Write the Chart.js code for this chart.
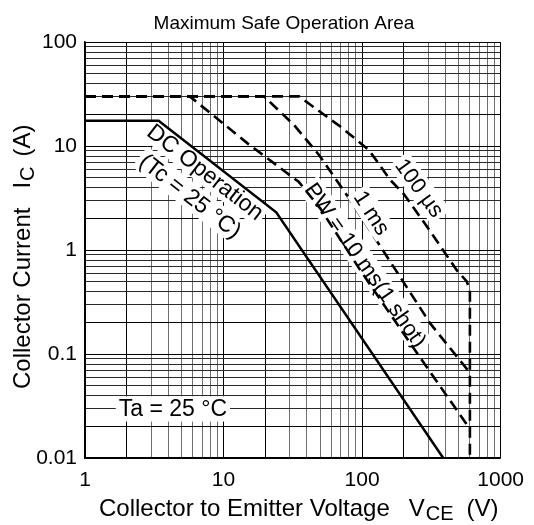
<!DOCTYPE html>
<html>
<head>
<meta charset="utf-8">
<script src="https://cdn.jsdelivr.net/npm/chart.js@4.4.0/dist/chart.umd.min.js"></script>
<style>
  html, body { margin: 0; padding: 0; background: #fff; }
</style>
</head>
<body>
<canvas id="soa" width="534" height="525"></canvas>
<script>
// values: collector-emitter voltage (V) / collector current (A)
let dcVce = [1, 3.4, 24, 385];
let dcIc = [17.5, 17.5, 2.3, 0.01];

let pw10Vce = [1, 5.7, 14.9, 35, 50, 70, 97, 229, 600];
let pw10Ic = [30, 30, 10.6, 4.5, 2.5, 1.25, 0.64, 0.12, 0.019];

let pw1Vce = [1, 19.6, 32.3, 48.9, 82.5, 135.6, 310, 600];
let pw1Ic = [30, 30, 15.9, 8.2, 3.0, 1.08, 0.197, 0.066];

let pw100Vce = [1, 35, 70, 112, 160, 200, 278, 398, 482, 569, 600, 600];
let pw100Ic = [30, 30, 15.3, 9.15, 4.7, 3.45, 1.87, 0.93, 0.64, 0.5, 0.41, 0.01];

let xTickLabels = ['1', '10', '100', '1000'];
let yTickLabels = ['0.01', '0.1', '1', '10', '100'];

const FONT = "'Liberation Sans', Arial, sans-serif";

function toPoints(xs, ys){
    return xs.map(function(x, i){ return {x: x, y: ys[i]}; });
}

// 1..9 per decade grid lines
function decadeGrid(first, last){
    let out = [];
    for (let e = first; e < last; e++){
        for (let m = 1; m < 10; m++){
            out.push(m * Math.pow(10, e));
        }
    }
    out.push(Math.pow(10, last));
    return out;
}
let gridX = decadeGrid(0, 3);
let gridY = decadeGrid(-2, 2);

function mantissa(v){
    return Math.round(v / Math.pow(10, Math.floor(Math.log10(v) + 1e-9)));
}
function isDecade(v){
    let l = Math.log10(v);
    return Math.abs(l - Math.round(l)) < 1e-6;
}
function labelFor(v, list){
    let found = list.find(function(s){ return Math.abs(parseFloat(s) - v) < v * 1e-6; });
    return found || '';
}

function boxedText(ctx, text, x, y, angle, size){
    ctx.save();
    ctx.translate(x, y);
    ctx.rotate(angle * Math.PI / 180);
    ctx.font = size + 'px ' + FONT;
    let w = ctx.measureText(text).width;
    ctx.fillStyle = '#fff';
    ctx.fillRect(-w / 2 - 3, -size * 0.55, w + 6, size * 1.1);
    ctx.fillStyle = '#000';
    ctx.textAlign = 'center';
    ctx.textBaseline = 'middle';
    ctx.fillText(text, 0, 1);
    ctx.restore();
}

function label(chart, text, vx, vy, angle, size){
    let px = chart.scales.x.getPixelForValue(vx);
    let py = chart.scales.y.getPixelForValue(vy);
    boxedText(chart.ctx, text, px, py, angle, size);
}

let annotationsUnder = {
    id: 'annotationsUnder',
    beforeDatasetsDraw: function(chart){
        label(chart, 'DC Operation', 7.41, 5.62, 38, 23);
        label(chart, '(Tc = 25 °C)', 5.76, 3.3, 38, 23);
        label(chart, 'PW = 10 ms(1 shot)', 106, 0.717, 55, 22);
        label(chart, 'Ta = 25 °C', 4.31, 0.0296, 0, 23);
    }
};

let annotationsOver = {
    id: 'annotationsOver',
    afterDatasetsDraw: function(chart){
        label(chart, '1 ms', 117.5, 2.27, 57, 22);
        label(chart, '100 µs', 260, 3.95, 54, 22);
    }
};

let titles = {
    id: 'titles',
    afterDraw: function(chart){
        let ctx = chart.ctx;
        ctx.save();
        ctx.fillStyle = '#000';
        ctx.textBaseline = 'alphabetic';
        ctx.textAlign = 'center';
        ctx.font = '19px ' + FONT;
        ctx.fillText('Maximum Safe Operation Area', 284, 29);

        // x axis title with subscript
        ctx.textAlign = 'left';
        let x = 99, base = 516;
        ctx.font = '24px ' + FONT;
        ctx.fillText('Collector to Emitter Voltage', x, base);
        x += ctx.measureText('Collector to Emitter Voltage').width + 19;
        ctx.fillText('V', x, base);
        x += ctx.measureText('V').width + 1;
        ctx.font = '20px ' + FONT;
        ctx.fillText('CE', x, base + 4);
        x += ctx.measureText('CE').width + 13;
        ctx.font = '24px ' + FONT;
        ctx.fillText('(V)', x, base);

        // y axis title, rotated
        ctx.translate(30, 389);
        ctx.rotate(-Math.PI / 2);
        let y = 0;
        ctx.fillText('Collector Current', y, 0);
        y += ctx.measureText('Collector Current').width + 19;
        ctx.fillText('I', y, 0);
        y += ctx.measureText('I').width + 1;
        ctx.font = '20px ' + FONT;
        ctx.fillText('C', y, 4);
        y += ctx.measureText('C').width + 10;
        ctx.font = '24px ' + FONT;
        ctx.fillText('(A)', y, 0);
        ctx.restore();
    }
};

let lineBase = {showLine: true, pointRadius: 0, borderColor: '#000', fill: false, tension: 0};

let data = {
    datasets: [
        Object.assign({label: 'DC', data: toPoints(dcVce, dcIc), borderWidth: 2.5}, lineBase),
        Object.assign({label: '10 ms', data: toPoints(pw10Vce, pw10Ic), borderWidth: 2.6, borderDash: [11, 6]}, lineBase),
        Object.assign({label: '1 ms', data: toPoints(pw1Vce, pw1Ic), borderWidth: 2.6, borderDash: [11, 6]}, lineBase),
        Object.assign({label: '100 us', data: toPoints(pw100Vce, pw100Ic), borderWidth: 2.6, borderDash: [11, 6]}, lineBase)
    ]
};

let config = {
    type: 'scatter',
    data: data,
    plugins: [annotationsUnder, annotationsOver, titles],
    options: {
        responsive: false,
        animation: false,
        layout: {padding: {top: 42, right: 32, left: 0, bottom: 0}},
        plugins: {legend: {display: false}, tooltip: {enabled: false}, title: {display: false}},
        scales: {
            x: {
                type: 'logarithmic',
                min: 1,
                max: 1000,
                afterBuildTicks: function(scale){
                    scale.ticks = gridX.map(function(v){ return {value: v}; });
                },
                afterFit: function(scale){ scale.height = 67; },
                ticks: {
                    autoSkip: false, maxRotation: 0, minRotation: 0, padding: 10,
                    color: '#000', font: {family: FONT, size: 21},
                    callback: function(v){ return isDecade(v) ? labelFor(v, xTickLabels) : ''; }
                },
                grid: {
                    drawTicks: false, lineWidth: 1,
                    color: function(c){ let m = mantissa(c.tick.value); return (m === 1 || m === 2) ? '#000' : '#6e6e6e'; }
                },
                border: {color: '#000', width: 1.5}
            },
            y: {
                type: 'logarithmic',
                min: 0.01,
                max: 100,
                afterBuildTicks: function(scale){
                    scale.ticks = gridY.map(function(v){ return {value: v}; });
                },
                afterFit: function(scale){ scale.width = 85; },
                ticks: {
                    autoSkip: false, padding: 8,
                    color: '#000', font: {family: FONT, size: 21},
                    callback: function(v){ return isDecade(v) ? labelFor(v, yTickLabels) : ''; }
                },
                grid: {
                    drawTicks: false, lineWidth: 1,
                    color: function(c){ let m = mantissa(c.tick.value); return (m === 1 || m === 2) ? '#000' : '#2a2a2a'; }
                },
                border: {color: '#000', width: 1.5}
            }
        }
    }
};

let soaChart = new Chart(document.getElementById('soa'), config);
</script>
</body>
</html>
